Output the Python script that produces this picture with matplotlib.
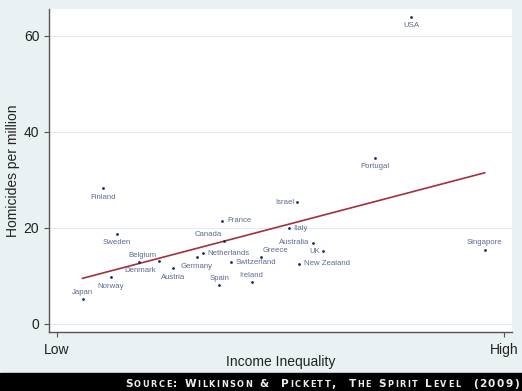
import numpy as np
import matplotlib
matplotlib.use('Agg')
import matplotlib.pyplot as plt
from matplotlib.patches import Rectangle

plt.rcParams['font.family'] = ['Liberation Sans', 'DejaVu Sans']

# income inequality index (0 = Low, 100 = High) and homicides per million
countries = ['Japan', 'Finland', 'Norway', 'Sweden', 'Denmark', 'Belgium', 'Austria',
             'Germany', 'Netherlands', 'Spain', 'France', 'Canada', 'Switzerland',
             'Ireland', 'Greece', 'Italy', 'Israel', 'New Zealand', 'Australia', 'UK',
             'Portugal', 'USA', 'Singapore']
inequality = [5.7, 10.3, 12.1, 13.4, 18.4, 22.8, 26.0,
              31.3, 32.7, 36.3, 37.0, 37.3, 38.9,
              43.6, 45.6, 52.0, 53.8, 54.1, 57.2, 59.5,
              71.1, 79.2, 95.7]
homicides = [5.3, 28.3, 9.7, 18.8, 12.85, 13.1, 11.7,
             13.9, 14.7, 8.1, 21.5, 17.3, 12.9,
             8.75, 14.0, 19.9, 25.4, 12.5, 16.9, 15.1,
             34.6, 64.0, 15.5]
xtick_labels = ['Low', 'High']
yticks = [0, 20, 40, 60]

# label placement: offset in pixels (dx, dy) and alignment
label_pos = {
    'Japan': (0, 6, 'center'), 'Finland': (0, -9, 'center'), 'Norway': (0, -9.4, 'center'),
    'Sweden': (0, -8.6, 'center'), 'Denmark': (0.7, -8.7, 'center'),
    'Belgium': (-17, 5.3, 'center'), 'Austria': (0, -9.3, 'center'),
    'Germany': (0, -9.4, 'center'), 'Netherlands': (4, 0, 'left'),
    'Spain': (0, 6.3, 'center'), 'France': (4.7, 0, 'left'), 'Canada': (-15, 6.3, 'center'),
    'Switzerland': (4.3, 0, 'left'), 'Ireland': (-0.7, 6, 'center'),
    'Greece': (2, 6, 'left'), 'Italy': (3.4, 0, 'left'), 'Israel': (-3.3, 0, 'right'),
    'New Zealand': (4.7, 0, 'left'), 'Australia': (-3.7, 0, 'right'), 'UK': (-3, 0, 'right'),
    'Portugal': (0, -8.7, 'center'), 'USA': (0, -9, 'center'), 'Singapore': (0, 6.7, 'center'),
}

W, H = 522, 391
fig = plt.figure(figsize=(W / 100, H / 100), dpi=100)
fig.patch.set_facecolor('#eaf1f3')

ax = fig.add_axes([49 / W, 1 - 332 / H, (512 - 49) / W, (332 - 9) / H])
ax.set_facecolor('white')
ax.set_xlim(-1.8, 101.8)
ax.set_ylim(-1.67, 65.6)

ax.set_yticks(yticks)
ax.set_xticks([0, 100])
ax.set_xticklabels(xtick_labels)
ax.grid(axis='y', color='#e2ecf4', lw=0.8)
ax.set_axisbelow(True)
for s in ['top', 'right']:
    ax.spines[s].set_visible(False)
for s in ['left', 'bottom']:
    ax.spines[s].set_color('#555555')
    ax.spines[s].set_linewidth(1.0)
ax.tick_params(axis='y', length=3.6, width=0.8, color='#555555', pad=3.4,
               labelsize=10, labelcolor='#222222')
ax.tick_params(axis='x', length=3.6, width=0.8, color='#555555', pad=4.5,
               labelsize=10, labelcolor='#222222')
ax.set_ylabel('Homicides per million', fontsize=10, color='#222222', labelpad=2.6)
ax.set_xlabel('Income Inequality', fontsize=10, color='#222222', labelpad=-1.8)

# fitted line
x = np.array(inequality)
y = np.array(homicides)
slope, icpt = np.polyfit(x, y, 1)
xs = np.array([x.min(), x.max()])
ax.plot(xs, slope * xs + icpt, color='#a3303c', lw=1.2, zorder=2)

ax.scatter(x, y, s=4, color='#1c2a5c', zorder=3, linewidths=0)
for c, xi, yi in zip(countries, inequality, homicides):
    dx, dy, ha = label_pos[c]
    ax.annotate(c, (xi, yi), xytext=(dx * 0.72, dy * 0.72), textcoords='offset points',
                ha=ha, va='center', fontsize=5.6, color='#5c6b94', zorder=4)

# source band
fig.patches.append(Rectangle((0, 0), 1, 18.5 / H, transform=fig.transFigure,
                             color='black', zorder=0))

source = 'Source: Wilkinson &  Pickett,  The Spirit Level  (2009)'
r = fig.canvas.get_renderer()
pieces = []
for ch in source:
    if ch == ' ':
        pieces.append(None)
        continue
    size = 5.9 if ch.islower() else 7.6
    t = fig.text(0, 4 / H, ch.upper(), fontsize=size, fontweight='bold',
                 family='DejaVu Sans', color='#eeeeee', va='baseline', ha='left')
    pieces.append(t)
widths = [4.0 if t is None else t.get_window_extent(r).width for t in pieces]
track = 1.55
total = sum(widths) + track * (len(widths) - 1)
px = 519 - total
for t, w in zip(pieces, widths):
    if t is not None:
        t.set_x(px / W)
    px += w + track

fig.savefig('out.png', dpi=100, facecolor=fig.get_facecolor())
